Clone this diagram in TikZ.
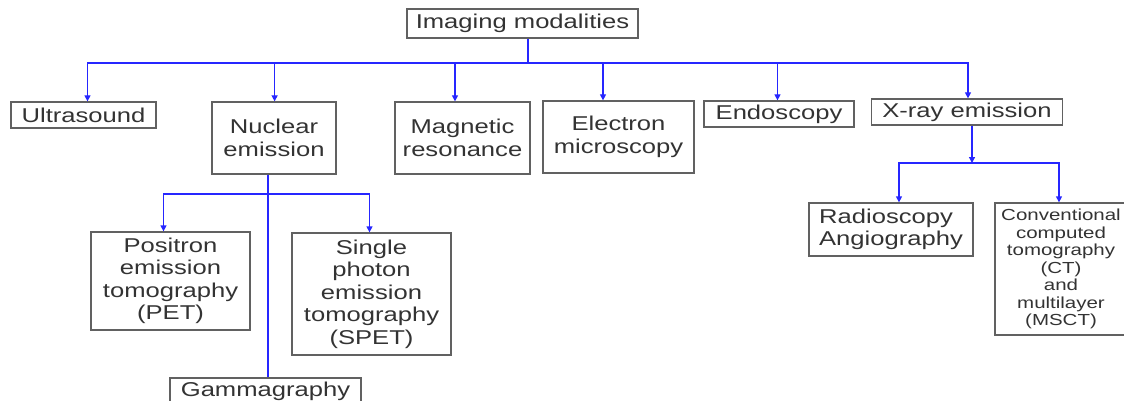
\documentclass[tikz,border=0pt]{standalone}
\usepackage{fontspec}
\setmainfont{Liberation Sans}[FakeStretch=1.28]
\usetikzlibrary{arrows.meta}
\definecolor{linkblue}{rgb}{0.15,0.15,1}
\definecolor{boxgray}{gray}{0.38}

\begin{document}
\begin{tikzpicture}[x=1pt, y=-1pt, >={Triangle[width=6pt,length=6pt]},
    main node/.style={draw=boxgray, line width=1.3pt, inner sep=0pt, align=center, font=\fontsize{20}{22.5}\selectfont},
    small node/.style={main node, font=\fontsize{16}{17.5}\selectfont},
    link/.style={draw=linkblue, line width=1.3pt}]
  \tikzstyle{every node}=[text=black!80]
  \useasboundingbox (0,0) rectangle (1124,401);

  % top level
  \node[main node, minimum width=231pt, minimum height=29pt] (root) at (522.5,23.5) {Imaging modalities};
  \node[main node, minimum width=145pt, minimum height=26pt] (ultra) at (83.5,115) {Ultrasound};
  \node[main node, minimum width=124pt, minimum height=72pt] (nuclear) at (274,138) {Nuclear\\emission};
  \node[main node, minimum width=135pt, minimum height=72pt] (magnetic) at (462.5,138) {Magnetic\\resonance};
  \node[main node, minimum width=151pt, minimum height=72pt] (electron) at (618.5,137) {Electron\\microscopy};
  \node[main node, minimum width=150pt, minimum height=26pt] (endo) at (779,114) {Endoscopy};
  \node[main node, minimum width=191.5pt, minimum height=26pt] (xray) at (967,112) {X-ray emission};

  % nuclear branch
  \node[main node, minimum width=159pt, minimum height=98pt] (pet) at (170.5,281) {Positron\\emission\\tomography\\(PET)};
  \node[main node, minimum width=159pt, minimum height=122pt] (spet) at (371.5,294) {Single\\photon\\emission\\tomography\\(SPET)};
  \node[main node, minimum width=191pt, minimum height=26pt] (gamma) at (265.5,391) {Gammagraphy};

  % x-ray branch
  \node[main node, align=left, minimum width=164pt, minimum height=53pt] (radio) at (891,229.5) {Radioscopy\\Angiography};
  \node[small node, minimum width=132pt, minimum height=132pt] (conv) at (1061,269) {Conventional\\computed\\tomography\\(CT)\\and\\multilayer\\(MSCT)};

  \coordinate (hub) at (528,63);
  \coordinate (xhub) at (972,163);
  \coordinate (nhub) at (268,194);

  \draw[link] (root.south -| hub) -- (hub);
  \foreach \n/\dx in {ultra/4, nuclear/0.6, magnetic/-7.5, electron/-15.5, endo/-1.5, xray/1}
    \draw[link,->] (hub) -| ([xshift=\dx pt]\n.north);

  \draw[link,->] (xray.south -| xhub) -- (xhub);
  \foreach \n/\dx in {radio/8, conv/-2}
    \draw[link,->] (xhub) -| ([xshift=\dx pt]\n.north);

  \draw[link] (nuclear.south -| nhub) -- (gamma.north -| nhub);
  \foreach \n/\dx in {pet/-7, spet/-2}
    \draw[link,->] (nhub) -| ([xshift=\dx pt]\n.north);
\end{tikzpicture}
\end{document}
